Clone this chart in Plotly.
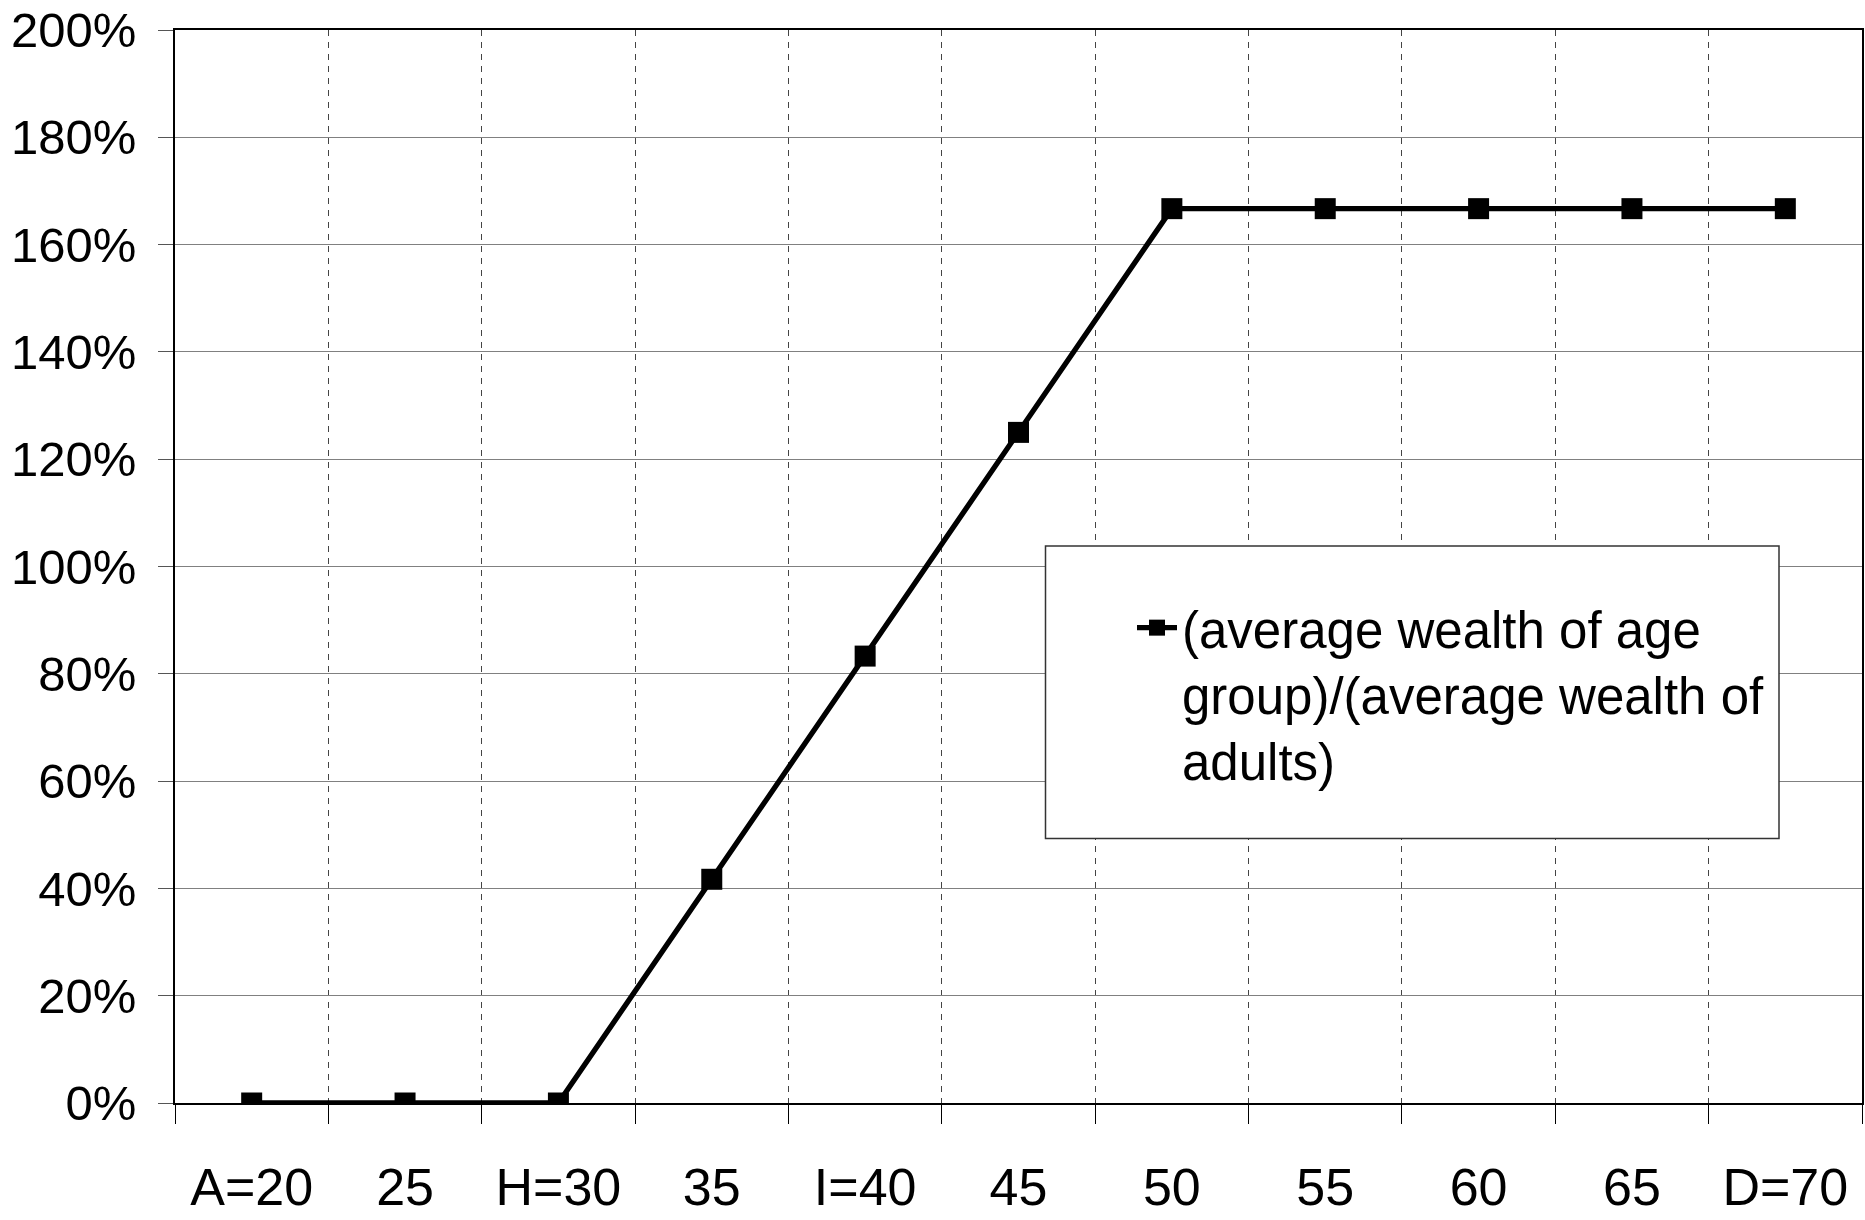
import plotly.graph_objects as go

categories = ["A=20", "25", "H=30", "35", "I=40", "45", "50", "55", "60", "65", "D=70"]
ratio_pct = [0, 0, 0, 41.7, 83.3, 125, 166.7, 166.7, 166.7, 166.7, 166.7]
series_name = "(average wealth of age<br>group)/(average wealth of<br>adults)"
y_ticks = [0, 20, 40, 60, 80, 100, 120, 140, 160, 180, 200]
y_tick_labels = ["0%", "20%", "40%", "60%", "80%", "100%", "120%", "140%", "160%", "180%", "200%"]

W, H = 1865, 1220
ML, MR, MT, MB = 175, 3, 30, 117
PW, PH = W - ML - MR, H - MT - MB

def px_x(x):
    return (x - ML) / PW

def px_y(y):
    return 1 - (y - MT) / PH

FONT = "Liberation Sans, Arial, sans-serif"

fig = go.Figure()
fig.add_trace(go.Scatter(
    x=categories, y=ratio_pct, name=series_name,
    mode="lines+markers",
    line=dict(color="black", width=5.3),
    marker=dict(symbol="square", size=21, color="black"),
    showlegend=True,
))

fig.update_layout(
    width=W, height=H,
    margin=dict(l=ML, r=MR, t=MT, b=MB, autoexpand=False),
    paper_bgcolor="white", plot_bgcolor="white",
    font=dict(family=FONT, size=52, color="black"),
    showlegend=True,
    legend=dict(
        x=px_x(1132), y=px_y(588), xanchor="left", yanchor="top",
        bgcolor="rgba(0,0,0,0)", borderwidth=0,
        valign="top", font=dict(family=FONT, size=51, color="black"),
        itemwidth=40,
    ),
    shapes=[dict(
        type="rect", xref="paper", yref="paper",
        x0=px_x(1045.5), x1=px_x(1779), y0=px_y(838.5), y1=px_y(546),
        line=dict(color="#333333", width=1.5), fillcolor="white", layer="above",
    )],
)

fig.update_xaxes(
    type="category", categoryorder="array", categoryarray=categories,
    range=[-0.5, len(categories) - 0.5], tickangle=0,
    tickson="boundaries", ticks="outside", ticklen=19, tickcolor="black", tickwidth=1,
    showgrid=True, gridcolor="#444444", gridwidth=1, griddash="6px,6px",
    showline=True, linecolor="black", linewidth=1.5, mirror=True,
    ticklabelstandoff=38, zeroline=False,
)
fig.update_yaxes(
    range=[0, 200], tickmode="array", tickvals=y_ticks, ticktext=y_tick_labels,
    tickfont=dict(size=49),
    ticks="outside", ticklen=15, tickcolor="#555555", tickwidth=1,
    showgrid=True, gridcolor="#808080", gridwidth=1.3,
    showline=True, linecolor="black", linewidth=1.5, mirror=True,
    zeroline=False, ticklabelstandoff=12,
)

fig.write_html("out.html", config={"displayModeBar": False},
               post_script="document.body.style.margin='0';")
